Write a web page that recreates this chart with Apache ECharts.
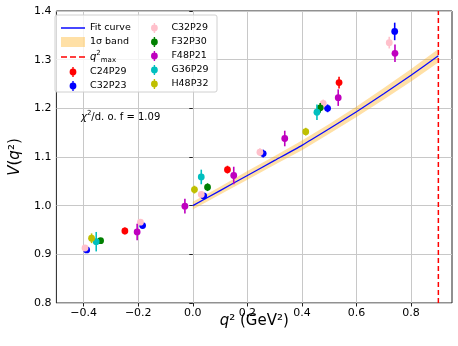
<!DOCTYPE html>
<html><head><meta charset="utf-8">
<script src="https://cdn.jsdelivr.net/npm/echarts@6/dist/echarts.min.js"></script>
<style>html,body{margin:0;padding:0;background:#fff}#c{width:458px;height:346px}</style>
</head><body><div id="c"></div>
<script>
// ---- data ----
const xTicks = [-0.4, -0.2, 0.0, 0.2, 0.4, 0.6, 0.8];
const yTicks = [0.8, 0.9, 1.0, 1.1, 1.2, 1.3, 1.4];
const qmax2 = 0.9;
const chi2dof = '1.09';

const fitX  = [0.0, 0.1, 0.2, 0.3, 0.4, 0.5, 0.6, 0.7, 0.8, 0.9];
const fitY  = [1.000, 1.031, 1.062, 1.093, 1.124, 1.158, 1.193, 1.230, 1.268, 1.308];
const fitErr= [0.008, 0.008, 0.009, 0.009, 0.010, 0.010, 0.011, 0.012, 0.013, 0.014];

const C24P29 = [[-0.249, 0.948, 0.007], [0.127, 1.074, 0.008], [0.536, 1.253, 0.012]];
const C32P23 = [[-0.389, 0.909, 0.004], [-0.184, 0.959, 0.005], [0.040, 1.020, 0.005], [0.258, 1.107, 0.008], [0.494, 1.200, 0.008], [0.740, 1.358, 0.018]];
const C32P29 = [[-0.395, 0.913, 0.004], [-0.192, 0.966, 0.005], [0.031, 1.023, 0.005], [0.246, 1.110, 0.008], [0.478, 1.210, 0.008], [0.720, 1.335, 0.012]];
const F32P30 = [[-0.338, 0.928, 0.005], [0.054, 1.038, 0.008], [0.467, 1.201, 0.010]];
const F48P21 = [[-0.204, 0.946, 0.017], [-0.029, 0.999, 0.015], [0.150, 1.062, 0.018], [0.337, 1.138, 0.016], [0.533, 1.222, 0.017], [0.741, 1.313, 0.018]];
const G36P29 = [[-0.354, 0.926, 0.020], [0.031, 1.059, 0.015], [0.455, 1.192, 0.016]];
const H48P32 = [[-0.371, 0.933, 0.010], [0.006, 1.033, 0.008], [0.414, 1.152, 0.008]];

const ensembles = [
  ['C24P29', C24P29, '#ff0000'],
  ['C32P23', C32P23, '#0000ff'],
  ['C32P29', C32P29, '#ffc0cb'],
  ['F32P30', F32P30, '#008000'],
  ['F48P21', F48P21, '#bf00bf'],
  ['G36P29', G36P29, '#00bfbf'],
  ['H48P32', H48P32, '#bfbf00']
];

const FONT = 'DejaVu Sans';
const errIcon = 'path://M4.3,0H5.7V10H4.3Z M5,1.6A3.4,3.4 0 1,1 5,8.4A3.4,3.4 0 1,1 5,1.6Z';
const lineIcon = 'path://M0,0M0,4.25H24V5.75H0ZM24,10';
const dashIcon = 'path://M0,0M0,4.25H6V5.75H0ZM9,4.25H15V5.75H9ZM18,4.25H24V5.75H18ZM24,10';

function fmt(v){ return (v < 0 ? '\u2212' : '') + Math.abs(v).toFixed(1); }

const series = [];
series.push({
  name: '1\u03c3 band', type: 'custom', z: 1,
  itemStyle: {color: 'rgba(255,165,0,0.35)'},
  data: fitX.map((x, i) => [x, fitY[i], fitErr[i]]),
  renderItem: function(params, api){
    if (params.dataIndex !== 0) return null;
    const up = [], lo = [];
    for (let i = 0; i < fitX.length; i++){
      up.push(api.coord([fitX[i], fitY[i] + fitErr[i]]));
      lo.push(api.coord([fitX[i], fitY[i] - fitErr[i]]));
    }
    return {type: 'polygon', shape: {points: up.concat(lo.reverse())}, style: {fill: 'rgba(255,165,0,0.35)'}};
  },
  encode: {x: 0, y: 1}
});
series.push({
  name: 'Fit curve', type: 'line', z: 2, symbol: 'none', smooth: 0.2,
  data: fitX.map((x, i) => [x, fitY[i]]),
  lineStyle: {color: '#0a0aff', width: 1.3}, itemStyle: {color: '#0a0aff'}
});
series.push({
  name: 'q2max', type: 'line', z: 2, symbol: 'none',
  data: [[qmax2, yTicks[0]], [qmax2, yTicks[yTicks.length - 1]]],
  lineStyle: {color: '#ff0000', width: 1.5, type: [5, 3]}, itemStyle: {color: '#ff0000'}
});
ensembles.forEach(([name, pts, color], k) => {
  series.push({
    name: name, type: 'custom', z: 3 + k,
    itemStyle: {color: color},
    data: pts,
    encode: {x: 0, y: 1},
    renderItem: function(params, api){
      const x = api.value(0), y = api.value(1), e = api.value(2);
      const p = api.coord([x, y]), hi = api.coord([x, y + e]), lo = api.coord([x, y - e]);
      return {type: 'group', children: [
        {type: 'line', shape: {x1: p[0], y1: hi[1], x2: p[0], y2: lo[1]}, style: {stroke: color, lineWidth: 1.6}},
        {type: 'circle', shape: {cx: p[0], cy: p[1], r: 3.4}, style: {fill: color}}
      ]};
    }
  });
});

const legendText = {
  fontFamily: FONT, fontSize: 9.5, color: '#000', lineHeight: 12,
  rich: {
    i: {fontFamily: FONT, fontSize: 10, fontStyle: 'italic', color: '#000', lineHeight: 14},
    sup: {fontFamily: FONT, fontSize: 7, color: '#000', verticalAlign: 'top', lineHeight: 14},
    sub: {fontFamily: FONT, fontSize: 7, color: '#000', verticalAlign: 'bottom', lineHeight: 14}
  }
};
const legendFmt = function(name){ return name === 'q2max' ? '{i|q}{sup|2}{sub|max}' : name; };
const legendCommon = {
  orient: 'vertical', itemWidth: 24, itemHeight: 10, itemGap: 2, z: 30,
  textStyle: legendText, formatter: legendFmt, selectedMode: false
};

const option = {
  animation: false,
  backgroundColor: '#fff',
  grid: {left: 51, right: 6, top: 11, bottom: 43, show: true, borderColor: '#222', borderWidth: 1},
  xAxis: {
    type: 'value', min: -0.5, max: 0.95,
    name: '{i|q}{n|\u00b2 (GeV\u00b2)}', nameLocation: 'middle', nameGap: 11, nameMoveOverlap: false,
    nameTextStyle: {rich: {i: {fontFamily: FONT, fontSize: 15, fontStyle: 'italic', color: '#000'}, n: {fontFamily: FONT, fontSize: 15, color: '#000'}}},
    axisLine: {show: false},
    axisTick: {show: true, customValues: xTicks, length: 3.5, lineStyle: {color: '#222'}},
    axisLabel: {customValues: xTicks, formatter: fmt, fontFamily: FONT, fontSize: 11, color: '#000', margin: 5},
    splitLine: {show: true, lineStyle: {color: '#c8c8c8', width: 1}}
  },
  yAxis: {
    type: 'value', min: 0.8, max: 1.4, interval: 0.1,
    name: '{i|V}{n|(}{i|q}{n|\u00b2)}', nameLocation: 'middle', nameGap: 30,
    nameTextStyle: {rich: {i: {fontFamily: FONT, fontSize: 15, fontStyle: 'italic', color: '#000'}, n: {fontFamily: FONT, fontSize: 15, color: '#000'}}},
    axisLine: {show: false},
    axisTick: {show: true, length: 3.5, lineStyle: {color: '#222'}},
    axisLabel: {formatter: v => v.toFixed(1), fontFamily: FONT, fontSize: 11, color: '#000', margin: 5},
    splitLine: {show: true, lineStyle: {color: '#c8c8c8', width: 1}}
  },
  legend: [
    Object.assign({left: 56, top: 17, data: [
      {name: 'Fit curve', icon: lineIcon},
      {name: '1\u03c3 band', icon: 'rect'},
      {name: 'q2max', icon: dashIcon},
      {name: 'C24P29', icon: errIcon},
      {name: 'C32P23', icon: errIcon}
    ]}, legendCommon),
    Object.assign({left: 146, top: 17, data: [
      {name: 'C32P29', icon: errIcon},
      {name: 'F32P30', icon: errIcon},
      {name: 'F48P21', icon: errIcon},
      {name: 'G36P29', icon: errIcon},
      {name: 'H48P32', icon: errIcon}
    ]}, legendCommon)
  ],
  graphic: [
    {type: 'rect', z: 20, shape: {x: 55, y: 15, width: 162, height: 77, r: 2},
     style: {fill: 'rgba(255,255,255,0.8)', stroke: '#d0d0d0', lineWidth: 1}},
    {type: 'text', z: 60, left: 81, top: 110,
     style: {text: '{i|\u03c7}{sup|2}{n|/d. o. f = ' + chi2dof + '}',
       rich: {
         i: {fontFamily: FONT, fontSize: 10, fontStyle: 'italic', color: '#000'},
         sup: {fontFamily: FONT, fontSize: 7, color: '#000', verticalAlign: 'top', lineHeight: 14},
         n: {fontFamily: FONT, fontSize: 10, color: '#000'}
       }}}
  ],
  series: series
};
const chart = echarts.init(document.getElementById('c'), null, {renderer: 'canvas'});
chart.setOption(option);
</script></body></html>
